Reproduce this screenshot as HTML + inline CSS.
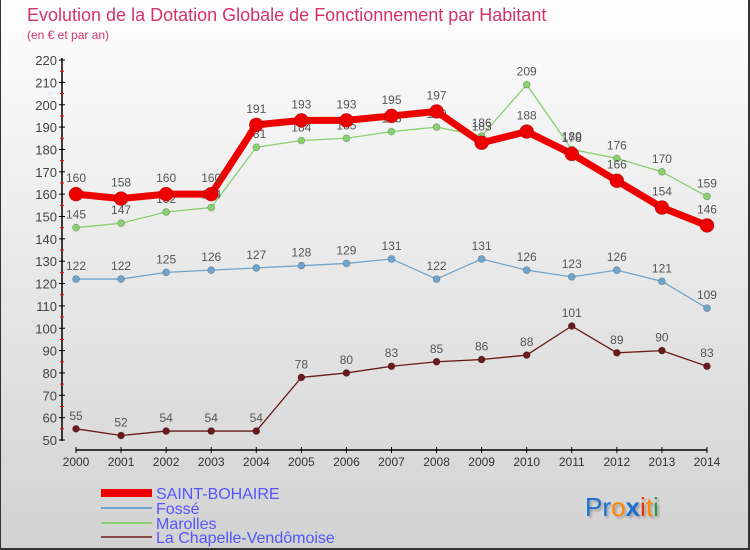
<!DOCTYPE html>
<html><head><meta charset="utf-8"><style>
body{margin:0}
#c{width:750px;height:550px;position:relative;background:linear-gradient(#fefefe,#d2d2d2);box-sizing:border-box;border:1px solid #333;border-width:0 2px 2px 1px;overflow:hidden;font-family:"Liberation Sans",sans-serif}
</style></head><body>
<div id="c">
<svg width="750" height="550" id="svg">
<text x="26" y="21" font-size="18" fill="#d2336b">Evolution de la Dotation Globale de Fonctionnement par Habitant</text>
<text x="26" y="39" font-size="12" fill="#d2336b">(en € et par an)</text>
<g id="axes"></g><g id="series"></g>
<g font-size="16" fill="#5555ff">
<rect x="100" y="489" width="51" height="8" fill="#ee0000"/>
<text x="155" y="499">SAINT-BOHAIRE</text>
<rect x="100" y="507" width="51" height="2" fill="#6fa5cc"/>
<text x="155" y="514">Fossé</text>
<rect x="100" y="522" width="51" height="2" fill="#88d070"/>
<text x="155" y="529">Marolles</text>
<rect x="100" y="536" width="51" height="2" fill="#8a4a4a"/>
<text x="155" y="543">La Chapelle-Vendômoise</text>
</g>
<g font-size="26" style="text-shadow:2px 2px 2px rgba(0,0,0,0.25)">
<text x="584" y="516"><tspan fill="#1a6fcf">Pr</tspan><tspan fill="#ff8800">o</tspan><tspan fill="#1a6fcf" font-weight="bold">x</tspan><tspan fill="#ee3300">i</tspan><tspan fill="#ff8800">t</tspan><tspan fill="#2a9a3a">i</tspan></text>
</g>
</svg>
</div>
<script>
const years=[2000,2001,2002,2003,2004,2005,2006,2007,2008,2009,2010,2011,2012,2013,2014];
const saint=[160,158,160,160,191,193,193,195,197,183,188,178,166,154,146];
const fosse=[122,122,125,126,127,128,129,131,122,131,126,123,126,121,109];
const marolles=[145,147,152,154,181,184,185,188,190,186,209,180,176,170,159];
const chapelle=[55,52,54,54,54,78,80,83,85,86,88,101,89,90,83];
const yTicks=[50,60,70,80,90,100,110,120,130,140,150,160,170,180,190,200,210,220];
const NS="http://www.w3.org/2000/svg";
const X=i=>75+i*45.07, Y=v=>440-(v-50)*2.235;
function mk(t,a,p){const e=document.createElementNS(NS,t);for(const k in a)e.setAttribute(k,a[k]);p.appendChild(e);return e;}
const ax=document.getElementById('axes');
let l=mk('line',{x1:61,y1:58,x2:61,y2:441,stroke:'#000','stroke-width':1.5},ax);

l=mk('line',{x1:75,y1:450,x2:706,y2:450,stroke:'#000','stroke-width':1.5},ax);

yTicks.forEach(v=>{
 mk('line',{x1:58,y1:Y(v),x2:64,y2:Y(v),stroke:'#000'},ax);
 if(v<220)mk('line',{x1:59,y1:Y(v+5),x2:63,y2:Y(v+5),stroke:'#f00'},ax);
 const t=mk('text',{x:56,y:Y(v)+5,'font-size':13,fill:'#444','text-anchor':'end'},ax);t.textContent=v;
 
});
years.forEach((yr,i)=>{
 mk('line',{x1:X(i),y1:447,x2:X(i),y2:453,stroke:'#000'},ax);
 const t=mk('text',{x:X(i),y:466,'font-size':12,fill:'#333','text-anchor':'middle'},ax);t.textContent=yr;
 
});
const sg=document.getElementById('series');
function draw(d,col,w,r,name){
 const g=mk('g',{},sg);
 
 mk('polyline',{points:d.map((v,i)=>X(i)+','+Y(v)).join(' '),fill:'none',stroke:col,'stroke-width':w,'stroke-linejoin':'round'},g);
 d.forEach((v,i)=>{
  const c=mk('circle',{cx:X(i),cy:Y(v),r:r,fill:col,stroke:'rgba(0,0,0,0.3)','stroke-width':0.6},g);
  
  const t=mk('text',{x:X(i),y:Y(v)-9-(r>5?3:0),'font-size':12,fill:'#555','text-anchor':'middle'},g);t.textContent=v;
  
 });
}
draw(chapelle,'#6a1a1a',1.3,3.5,'la-chapelle');
draw(fosse,'#6fa5cc',1.3,3.5,'fosse');
draw(marolles,'#88d070',1.3,3.5,'marolles');
draw(saint,'#ee0000',7,7,'saint-bohaire');
</script>
</body></html>
